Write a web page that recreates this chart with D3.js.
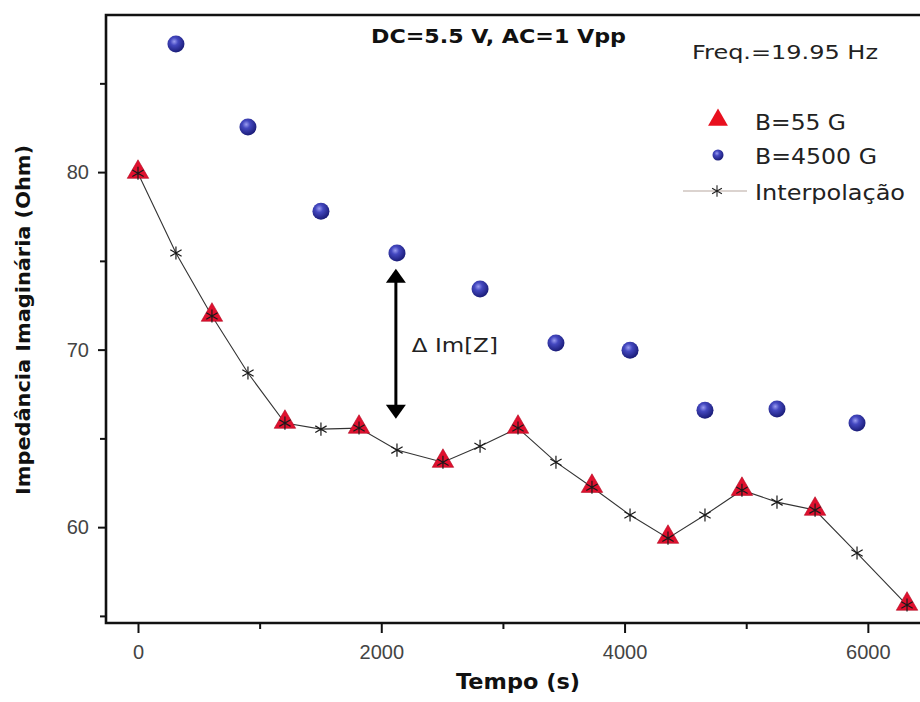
<!DOCTYPE html>
<html>
<head>
<meta charset="utf-8">
<script src="https://cdn.jsdelivr.net/npm/d3@7"></script>
<style>
  html, body { margin: 0; padding: 0; background: #fff; }
  svg { display: block; }
</style>
</head>
<body>
<div id="chart"></div>
<script>
// Imaginary impedance over time, two magnetic field strengths
const timeB55 = [0, 608, 1208, 1817, 2507, 3124, 3732, 4357, 4965, 5566, 6322];
const valueB55 = [79.94, 71.89, 65.86, 65.58, 63.66, 65.58, 62.25, 59.38, 62.08, 60.96, 55.61];

const timeB4500 = [312, 904, 1504, 2129, 2812, 3436, 4045, 4661, 5253, 5911];
const valueB4500 = [87.21, 82.54, 77.80, 75.44, 73.41, 70.37, 69.97, 66.59, 66.65, 65.86];

// B=55 G curve read at the B=4500 G times
const timeInterp = [0, 312, 608, 904, 1208, 1504, 1817, 2129, 2507, 2812, 3124, 3436, 3732, 4045, 4357, 4661, 4965, 5253, 5566, 5911, 6322];
const valueInterp = [79.94, 75.44, 71.89, 68.68, 65.86, 65.52, 65.58, 64.34, 63.66, 64.56, 65.58, 63.66, 62.25, 60.68, 59.38, 60.68, 62.08, 61.41, 60.96, 58.54, 55.61];

const xTicksMajor = [0, 2000, 4000, 6000];
const xTicksMinor = [1000, 3000, 5000];
const yTicksMajor = [60, 70, 80];
const yTicksMinor = [55, 65, 75, 85];

// Double arrow marking the gap between the two curves
const deltaTime = 2120;
const deltaTop = 74.55;
const deltaBottom = 66.1;

const legendLabels = ["B=55 G", "B=4500 G", "Interpolação"];

const W = 920, H = 702;
const plotLeft = 106, plotRight = 926, plotTop = 15, plotBottom = 623;

const svg = d3.select("#chart").append("svg")
  .attr("width", W).attr("height", H)
  .attr("viewBox", `0 0 ${W} ${H}`);

svg.append("rect").attr("width", W).attr("height", H).attr("fill", "#fff");

const x = d3.scaleLinear().domain([-263, 6478]).range([plotLeft, plotRight]);
const y = d3.scaleLinear().domain([54.6, 88.85]).range([plotBottom, plotTop]);

// sphere shading for the blue markers
const defs = svg.append("defs");
const grad = defs.append("radialGradient").attr("id", "ball")
  .attr("cx", "40%").attr("cy", "35%").attr("r", "65%");
grad.append("stop").attr("offset", "0%").attr("stop-color", "#9a9cf0");
grad.append("stop").attr("offset", "35%").attr("stop-color", "#4448c0");
grad.append("stop").attr("offset", "100%").attr("stop-color", "#1a1c78");

// axes
const tickFont = "'Liberation Sans', Arial, sans-serif";
const xAxis = d3.axisBottom(x).tickValues(xTicksMajor).tickSize(10).tickPadding(12)
  .tickFormat(d3.format("d"));
const gx = svg.append("g").attr("transform", `translate(0,${plotBottom})`).call(xAxis);
gx.select(".domain").remove();
gx.selectAll(".tick line").attr("stroke", "#111").attr("stroke-width", 2);
gx.selectAll(".tick text").attr("font-family", tickFont).attr("font-size", 20)
  .attr("fill", "#444");

const xAxisMinor = d3.axisBottom(x).tickValues(xTicksMinor).tickSize(6).tickFormat("");
const gxm = svg.append("g").attr("transform", `translate(0,${plotBottom})`).call(xAxisMinor);
gxm.select(".domain").remove();
gxm.selectAll(".tick line").attr("stroke", "#111").attr("stroke-width", 2);

const yAxis = d3.axisLeft(y).tickValues(yTicksMajor).tickSize(8).tickPadding(9)
  .tickFormat(d3.format("d"));
const gy = svg.append("g").attr("transform", `translate(${plotLeft},0)`).call(yAxis);
gy.select(".domain").remove();
gy.selectAll(".tick line").attr("stroke", "#111").attr("stroke-width", 2);
gy.selectAll(".tick text").attr("font-family", tickFont).attr("font-size", 20)
  .attr("fill", "#444");

const yAxisMinor = d3.axisLeft(y).tickValues(yTicksMinor).tickSize(6).tickFormat("");
const gym = svg.append("g").attr("transform", `translate(${plotLeft},0)`).call(yAxisMinor);
gym.select(".domain").remove();
gym.selectAll(".tick line").attr("stroke", "#111").attr("stroke-width", 2);

// frame
svg.append("path")
  .attr("d", `M${plotRight},${plotBottom}H${plotLeft}V${plotTop}H${plotRight}`)
  .attr("fill", "none").attr("stroke", "#111").attr("stroke-width", 2.6);

// interpolation line
const line = d3.line().x((d, i) => x(timeInterp[i])).y(d => y(d));
svg.append("path").datum(valueInterp)
  .attr("d", line).attr("fill", "none")
  .attr("stroke", "#333").attr("stroke-width", 1.1);

// B=55 G triangles
const tri = d3.symbol().type(d3.symbolTriangle).size(200);
svg.append("g").selectAll("path").data(valueB55).join("path")
  .attr("d", tri)
  .attr("transform", (d, i) => `translate(${x(timeB55[i])},${y(d) - 1})`)
  .attr("fill", "#e0102e").attr("stroke", "#b00a22").attr("stroke-width", 0.6);

// asterisks on every interpolation point
const star = d3.symbol().type(d3.symbolAsterisk).size(120);
svg.append("g").selectAll("path").data(valueInterp).join("path")
  .attr("d", star)
  .attr("transform", (d, i) => `translate(${x(timeInterp[i])},${y(d)})`)
  .attr("fill", "none").attr("stroke", "#1a1a1a").attr("stroke-width", 1.2);

// B=4500 G spheres
svg.append("g").selectAll("circle").data(valueB4500).join("circle")
  .attr("cx", (d, i) => x(timeB4500[i]))
  .attr("cy", d => y(d))
  .attr("r", 8.5)
  .attr("fill", "url(#ball)");

// delta annotation arrow
const ax = x(deltaTime);
const yTop = y(deltaTop), yBot = y(deltaBottom);
svg.append("line").attr("x1", ax).attr("x2", ax)
  .attr("y1", yTop + 10).attr("y2", yBot - 10)
  .attr("stroke", "#000").attr("stroke-width", 3);
svg.append("path")
  .attr("d", `M${ax},${yTop}L${ax - 10},${yTop + 14}L${ax + 10},${yTop + 14}Z`)
  .attr("fill", "#000");
svg.append("path")
  .attr("d", `M${ax},${yBot}L${ax - 10},${yBot - 14}L${ax + 10},${yBot - 14}Z`)
  .attr("fill", "#000");
svg.append("text")
  .attr("x", ax + 16).attr("y", (yTop + yBot) / 2 + 8)
  .attr("font-family", "'DejaVu Sans', sans-serif").attr("font-size", 20)
  .attr("fill", "#222")
  .attr("textLength", 86).attr("lengthAdjust", "spacingAndGlyphs")
  .text("Δ Im[Z]");

// heading texts
svg.append("text")
  .attr("x", 371).attr("y", 43)
  .attr("font-family", "'DejaVu Sans', sans-serif").attr("font-weight", "bold")
  .attr("font-size", 19).attr("fill", "#111")
  .attr("textLength", 255).attr("lengthAdjust", "spacingAndGlyphs")
  .text("DC=5.5 V, AC=1 Vpp");

svg.append("text")
  .attr("x", 692).attr("y", 59)
  .attr("font-family", "'DejaVu Sans', sans-serif")
  .attr("font-size", 20).attr("fill", "#222")
  .attr("textLength", 186).attr("lengthAdjust", "spacingAndGlyphs")
  .text("Freq.=19.95 Hz");

// legend
const legFont = "'DejaVu Sans', sans-serif";
const legX = 755;
const legBase = [130, 164, 200];
const legLen = [91, 122, 150];
svg.append("g").selectAll("text").data(legendLabels).join("text")
  .attr("x", legX).attr("y", (d, i) => legBase[i])
  .attr("font-family", legFont).attr("font-size", 21).attr("fill", "#222")
  .attr("textLength", (d, i) => legLen[i]).attr("lengthAdjust", "spacingAndGlyphs")
  .text(d => d);

svg.append("path")
  .attr("d", d3.symbol().type(d3.symbolTriangle).size(170)())
  .attr("transform", `translate(718,${legBase[0] - 10})`)
  .attr("fill", "#e8101e");
svg.append("circle").attr("cx", 718).attr("cy", legBase[1] - 9).attr("r", 5.5)
  .attr("fill", "url(#ball)");
svg.append("line").attr("x1", 683).attr("x2", 747)
  .attr("y1", legBase[2] - 9).attr("y2", legBase[2] - 9)
  .attr("stroke", "#b8a8a0").attr("stroke-width", 1.2);
svg.append("path")
  .attr("d", d3.symbol().type(d3.symbolAsterisk).size(90)())
  .attr("transform", `translate(717,${legBase[2] - 9})`)
  .attr("fill", "none").attr("stroke", "#222").attr("stroke-width", 1.1);

// axis titles
svg.append("text")
  .attr("x", 518).attr("y", 689)
  .attr("text-anchor", "middle")
  .attr("font-family", "'DejaVu Sans', sans-serif").attr("font-weight", "bold")
  .attr("font-size", 21).attr("fill", "#111")
  .attr("textLength", 124).attr("lengthAdjust", "spacingAndGlyphs")
  .text("Tempo (s)");

svg.append("text")
  .attr("transform", `translate(30,${(145 + 495) / 2}) rotate(-90)`)
  .attr("text-anchor", "middle")
  .attr("font-family", "'DejaVu Sans', sans-serif").attr("font-weight", "bold")
  .attr("font-size", 20).attr("fill", "#111")
  .attr("textLength", 350).attr("lengthAdjust", "spacingAndGlyphs")
  .text("Impedância Imaginária (Ohm)");
</script>
</body>
</html>
